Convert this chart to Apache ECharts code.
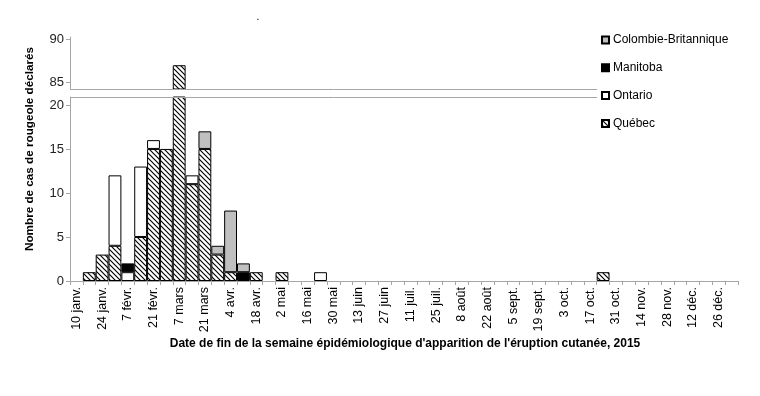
<!DOCTYPE html>
<html><head><meta charset="utf-8">
<script src="https://cdn.jsdelivr.net/npm/echarts@6/dist/echarts.min.js"></script>
<style>html,body{margin:0;padding:0;background:#fff}#c{width:760px;height:396px}</style>
</head><body><div id="c"></div>
<script>
const categories = ["10 janv.","17 janv.","24 janv.","31 janv.","7 févr.","14 févr.","21 févr.","28 févr.",
"7 mars","14 mars","21 mars","28 mars","4 avr.","11 avr.","18 avr.","25 avr.",
"2 mai","9 mai","16 mai","23 mai","30 mai","6 juin","13 juin","20 juin","27 juin",
"4 juil.","11 juil.","18 juil.","25 juil.","1 août","8 août","15 août","22 août","29 août",
"5 sept.","12 sept.","19 sept.","26 sept.","3 oct.","10 oct.","17 oct.","24 oct.","31 oct.",
"7 nov.","14 nov.","21 nov.","28 nov.","5 déc.","12 déc.","19 déc.","26 déc.","2 janv."];
const quebec   = [0,1,3,4,0,5,15,15,87,11,15,3,1,0,1,0,1,0,0,0,0,0,0,0,0,0,0,0,0,0,0,0,0,0,0,0,0,0,0,0,0,1,0,0,0,0,0,0,0,0,0,0];
const ontario  = [0,0,0,8,1,8,1,0,0,1,0,0,0,0,0,0,0,0,0,1,0,0,0,0,0,0,0,0,0,0,0,0,0,0,0,0,0,0,0,0,0,0,0,0,0,0,0,0,0,0,0,0];
const manitoba = [0,0,0,0,1,0,0,0,0,0,0,0,0,1,0,0,0,0,0,0,0,0,0,0,0,0,0,0,0,0,0,0,0,0,0,0,0,0,0,0,0,0,0,0,0,0,0,0,0,0,0,0];
const colombie = [0,0,0,0,0,0,0,0,0,0,2,1,7,1,0,0,0,0,0,0,0,0,0,0,0,0,0,0,0,0,0,0,0,0,0,0,0,0,0,0,0,0,0,0,0,0,0,0,0,0,0,0];
const upperTicks = [85, 90];
const lowerTicks = [0, 5, 10, 15, 20];

const FONT = '"Liberation Sans", Arial, sans-serif';
const GL = 70, GRX = 738;
const UP_TOP = 37, UP_BOT = 89, LO_TOP = 97, LO_BOT = 281;
const UP_MIN = 84.28, UP_MAX = 90.23, LO_MAX = 20.9;
const AX = '#a6a6a6';

function hatch(){
  const s = 5, c = document.createElement('canvas');
  c.width = s; c.height = s;
  const g = c.getContext('2d');
  g.fillStyle = '#fff'; g.fillRect(0,0,s,s);
  g.strokeStyle = '#000'; g.lineWidth = 1.15;
  g.beginPath();
  g.moveTo(-1,-1); g.lineTo(s+1,s+1);
  g.moveTo(-1,s-1); g.lineTo(1,s+1);
  g.moveTo(s-1,-1); g.lineTo(s+1,1);
  g.stroke();
  return {image: c, repeat: 'repeat'};
}
const styles = {
  'Québec': {color: hatch(), borderColor:'#000', borderWidth:1},
  'Ontario': {color:'#fff', borderColor:'#000', borderWidth:1},
  'Manitoba': {color:'#000', borderColor:'#000', borderWidth:1},
  'Colombie-Britannique': {color:'#c0c0c0', borderColor:'#000', borderWidth:1}
};
const provinces = [['Québec', quebec], ['Ontario', ontario], ['Manitoba', manitoba], ['Colombie-Britannique', colombie]];
const totals = categories.map((_, i) => provinces.reduce((a, p) => a + p[1][i], 0));
const nz = v => v === 0 ? '-' : v;

const series = [];
provinces.forEach(([name, arr]) => {
  series.push({name, type:'bar', stack:'lo', xAxisIndex:1, yAxisIndex:1, barCategoryGap:'0%',
    itemStyle: styles[name], data: arr.map(nz), animation:false, emphasis:{disabled:true}});
});
provinces.forEach(([name, arr]) => {
  series.push({name, type:'bar', stack:'up', xAxisIndex:0, yAxisIndex:0, barCategoryGap:'0%',
    itemStyle: styles[name], data: arr.map((v,i) => totals[i] > UP_MIN ? nz(v) : '-'), animation:false, emphasis:{disabled:true}});
});

const chart = echarts.init(document.getElementById('c'), null, {renderer:'canvas'});
chart.setOption({
  animation:false,
  textStyle:{fontFamily:FONT},
  legend:{
    data:['Colombie-Britannique','Manitoba','Ontario','Québec'],
    orient:'vertical', left:596, top:29, itemWidth:7, itemHeight:7, itemGap:15.8,
    icon:'rect', selectedMode:false,
    textStyle:{fontFamily:FONT, fontSize:12, color:'#000', padding:[0,0,0,-1]}
  },
  grid:[
    {left:GL, right:760-GRX, top:UP_TOP, height:UP_BOT-UP_TOP},
    {left:GL, right:760-GRX, top:LO_TOP, height:LO_BOT-LO_TOP}
  ],
  xAxis:[
    {type:'category', gridIndex:0, data:categories, axisLine:{show:false}, axisTick:{show:false}, axisLabel:{show:false}},
    {type:'category', gridIndex:1, data:categories, boundaryGap:true,
      axisLine:{lineStyle:{color:AX, width:1}},
      axisTick:{show:true, interval:0, length:4, lineStyle:{color:AX}},
      axisLabel:{interval:1, rotate:90, fontSize:12.5, color:'#000', fontFamily:FONT, margin:6}}
  ],
  yAxis:[
    {type:'value', gridIndex:0, min:UP_MIN, max:UP_MAX, splitLine:{show:false},
      axisLine:{show:true, lineStyle:{color:AX}},
      axisTick:{show:true, length:4, lineStyle:{color:AX}, customValues:upperTicks},
      axisLabel:{fontSize:13, color:'#222', fontFamily:FONT, margin:6, customValues:upperTicks}},
    {type:'value', gridIndex:1, min:0, max:LO_MAX, splitLine:{show:false},
      axisLine:{show:true, lineStyle:{color:AX}},
      axisTick:{show:true, length:4, lineStyle:{color:AX}, customValues:lowerTicks},
      axisLabel:{fontSize:13, color:'#222', fontFamily:FONT, margin:6, customValues:lowerTicks}}
  ],
  graphic:[
    {type:'line', shape:{x1:GL, y1:UP_BOT+0.5, x2:597, y2:UP_BOT+0.5}, style:{stroke:AX, lineWidth:1}, z:10},
    {type:'line', shape:{x1:GL, y1:LO_TOP+0.5, x2:597, y2:LO_TOP+0.5}, style:{stroke:AX, lineWidth:1}, z:10},
    {type:'text', x:30, y:149, rotation:Math.PI/2,
      style:{text:'Nombre de cas de rougeole déclarés', font:'bold 11.7px '+FONT, fill:'#000', textAlign:'center', textVerticalAlign:'middle'}},
    {type:'text', x:405, y:344,
      style:{text:"Date de fin de la semaine épidémiologique d'apparition de l'éruption cutanée, 2015", font:'bold 12px '+FONT, fill:'#000', textAlign:'center', textVerticalAlign:'middle'}},
    {type:'text', x:258, y:17, style:{text:'.', font:'10px '+FONT, fill:'#000', textAlign:'center', textVerticalAlign:'middle'}}
  ],
  series
});
</script></body></html>
